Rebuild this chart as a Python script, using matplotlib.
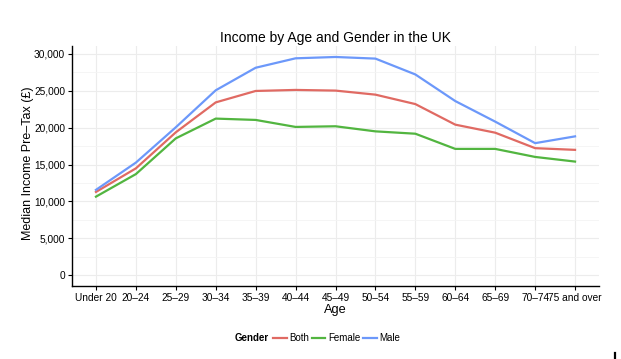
import matplotlib
matplotlib.use("Agg")
import matplotlib.pyplot as plt
from matplotlib.lines import Line2D
from matplotlib.ticker import MultipleLocator, FuncFormatter

ages = ["Under 20", "20–24", "25–29", "30–34", "35–39", "40–44", "45–49",
        "50–54", "55–59", "60–64", "65–69", "70–74", "75 and over"]
both = [11280, 14480, 19370, 23430, 24980, 25120, 25030, 24480, 23200, 20410, 19320, 17220, 16990]
female = [10640, 13700, 18550, 21230, 21050, 20100, 20190, 19500, 19180, 17120, 17120, 16030, 15400]
male = [11560, 15260, 20050, 25070, 28130, 29410, 29590, 29370, 27220, 23610, 20820, 17900, 18820]
series = [("Both", both, "#E06A63"), ("Female", female, "#52B540"), ("Male", male, "#6C98FA")]

plt.rcParams['font.family'] = ['Liberation Sans', 'DejaVu Sans']

fig = plt.figure(figsize=(6.21, 3.59), dpi=100)
ax = fig.add_axes([72/621, 1-286/359, (599-72)/621, (286-46)/359])

x = list(range(len(ages)))
for name, vals, col in series:
    ax.plot(x, vals, color=col, lw=1.6, label=name)

ax.set_xlim(-0.6, len(ages) - 1 + 0.6)
ax.set_ylim(-1480, 31080)
ax.set_xticks(x)
ax.set_xticklabels(ages, fontsize=7.3)
ax.yaxis.set_major_locator(MultipleLocator(5000))
ax.yaxis.set_minor_locator(MultipleLocator(2500))
ax.yaxis.set_major_formatter(FuncFormatter(lambda v, p: f"{int(v):,}"))
ax.tick_params(axis='y', labelsize=7.3, length=3, width=0.8, color='black', pad=2)
ax.tick_params(axis='x', length=3, width=0.8, color='black', pad=2)
ax.tick_params(axis='y', which='minor', length=0)
ax.grid(True, which='major', color='#ececec', lw=0.8)
ax.grid(True, which='minor', axis='y', color='#f4f4f4', lw=0.6)
ax.set_axisbelow(True)
for s in ['top', 'right']:
    ax.spines[s].set_visible(False)
for s in ['left', 'bottom']:
    ax.spines[s].set_linewidth(1.0)
    ax.spines[s].set_color('black')

ax.set_xlabel("Age", fontsize=9.2, labelpad=1)
ax.set_ylabel("Median Income Pre–Tax (£)", fontsize=9.0)
ax.yaxis.set_label_coords((34 - 72) / 527, (286 - 163) / 240)
ax.set_title("Income by Age and Gender in the UK", fontsize=10, pad=3)

handles = [Line2D([0], [0], color=c, lw=1.6) for _, _, c in series]
leg = fig.legend(handles, [n for n, _, _ in series], loc='center left',
                 bbox_to_anchor=(273/621, 1-338/359),
                 ncol=3, frameon=False, fontsize=7.0, handlelength=1.4,
                 handletextpad=0.25, columnspacing=0.3, borderpad=0, borderaxespad=0)
fig.text(235/621, 1-338/359, "Gender", fontsize=7.0, fontweight='bold', va='center', ha='left')

fig.add_artist(Line2D([615/621, 615/621], [0, 6/359], color='black', lw=1.6, transform=fig.transFigure))

fig.savefig("out.png", dpi=100)
